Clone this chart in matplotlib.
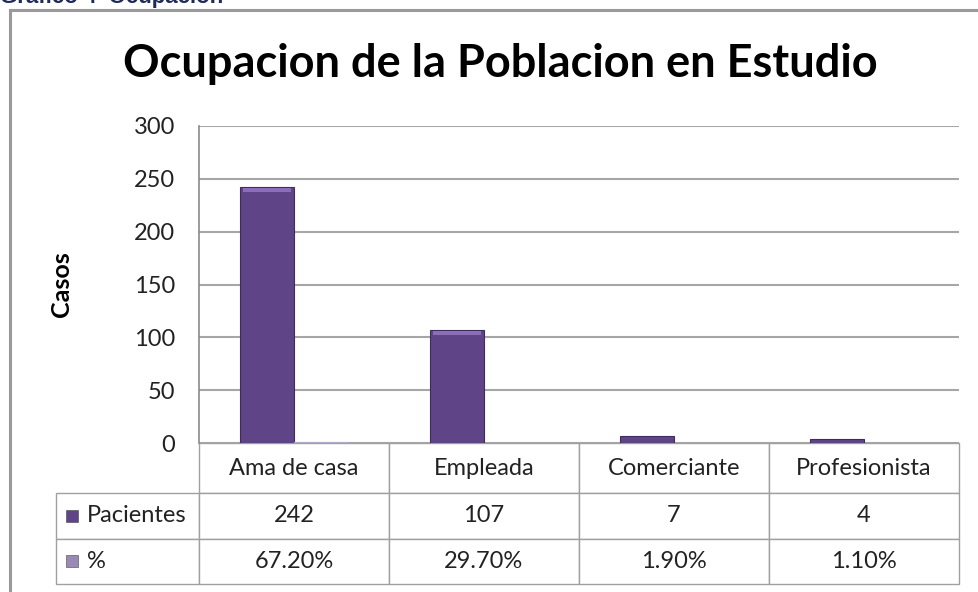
import matplotlib
matplotlib.use("Agg")
import matplotlib.pyplot as plt
from matplotlib.table import Table
from matplotlib.lines import Line2D
import numpy as np

plt.rcParams["font.family"] = ["Lato", "DejaVu Sans"]

categories = ["Ama de casa", "Empleada", "Comerciante", "Profesionista"]
pacientes = [242, 107, 7, 4]
porcentaje = [67.2, 29.7, 1.9, 1.1]
series_names = ["Pacientes", "%"]
pct_labels = ["67.20%", "29.70%", "1.90%", "1.10%"]
y_ticks = [0, 50, 100, 150, 200, 250, 300]

W, H = 979, 592
DARK = "#5f4587"
LIGHT = "#9a88b5"
GRID = "#a6a6a6"
FS = 17

fig = plt.figure(figsize=(W / 100, H / 100), dpi=100)

# chart frame (left/top visible)
fig.add_artist(Line2D([10 / W, 10 / W], [0, 1 - 10 / H], color="#9a9a9a", lw=2.2))
fig.add_artist(Line2D([10 / W, 1], [1 - 10 / H, 1 - 10 / H], color="#9a9a9a", lw=2.2))

# caption above the frame, mostly cut off
fig.text(0.0, 1 - 3 / H, "Grafico 4  Ocupacion", fontsize=16, fontweight="bold",
         color="#1f2a5a", family="Liberation Sans", ha="left", va="baseline")

x0, x1 = 199, 959
y0, y1 = 443, 126
ax = fig.add_axes([x0 / W, 1 - y0 / H, (x1 - x0) / W, (y0 - y1) / H])

x = np.arange(len(categories))
bw = 0.285
ax.bar(x - bw / 2, pacientes, bw, color=DARK, edgecolor="#3f2c5c", linewidth=0.8, zorder=3)
ax.bar(x + bw / 2, [v / 100 for v in porcentaje], bw, color=LIGHT, edgecolor="#b7a9cc",
       linewidth=0.8, zorder=3)
# simple bevel highlight on the top of the bars
for xi, v in zip(x, pacientes):
    if v > 20:
        ax.bar(xi - bw / 2, 3.5, bw * 0.88, bottom=v - 4.5, color="#8a6fb8", zorder=4, linewidth=0)

ax.set_xlim(-0.5, len(categories) - 0.5)
ax.set_ylim(0, 300)
ax.set_yticks(y_ticks)
ax.set_yticklabels([str(t) for t in y_ticks], fontsize=FS, color="#222222")
ax.tick_params(axis="y", length=0, pad=17)
ax.set_xticks([])
ax.grid(axis="y", color=GRID, linewidth=1.5, zorder=0)
for s in ["top", "right", "bottom"]:
    ax.spines[s].set_visible(False)
ax.spines["left"].set_color("#8a8a8a")
ax.spines["left"].set_linewidth(1.2)

fig.text(62 / W, 1 - 284 / H, "Casos", rotation=90, fontsize=18, fontweight="bold",
         ha="center", va="center")

fig.text(500 / W, 1 - 77 / H, "Ocupacion de la Poblacion en Estudio", fontsize=32.5,
         fontweight="bold", ha="center", va="baseline")

# data table under the axis (bbox covers the data columns only)
ph = y0 - y1
tb = Table(ax, bbox=[0, -(584 - y0) / ph, 1, (584 - y0) / ph])
rh = [50 / ph, 46 / ph, 45 / ph]
lw_ = (x0 - 56) / (x1 - x0)
cw = 0.25
for j, c in enumerate(categories):
    tb.add_cell(0, j, cw, rh[0], text=c, loc="center")
rows = [[str(v) for v in pacientes], pct_labels]
for i, (name, vals) in enumerate(zip(series_names, rows), start=1):
    cell = tb.add_cell(i, -1, lw_, rh[i], text=name, loc="left")
    cell.PAD = 31 / (x0 - 56)
    for j, v in enumerate(vals):
        tb.add_cell(i, j, cw, rh[i], text=v, loc="center")
tb.auto_set_font_size(False)
for cell in tb.get_celld().values():
    cell.set_edgecolor("#a0a0a0")
    cell.set_linewidth(1.0)
    cell.get_text().set_fontsize(FS)
    cell.get_text().set_color("#222222")
ax.add_table(tb)

# legend keys in the row labels
for yy, col in [(516, DARK), (561, LIGHT)]:
    ax.scatter([(72 - x0) / (x1 - x0)], [-(yy - y0) / ph], marker="s", s=75, color=col,
               edgecolor="#444444", linewidth=0.4, transform=ax.transAxes, clip_on=False, zorder=5)

fig.savefig("out.png", dpi=100)
